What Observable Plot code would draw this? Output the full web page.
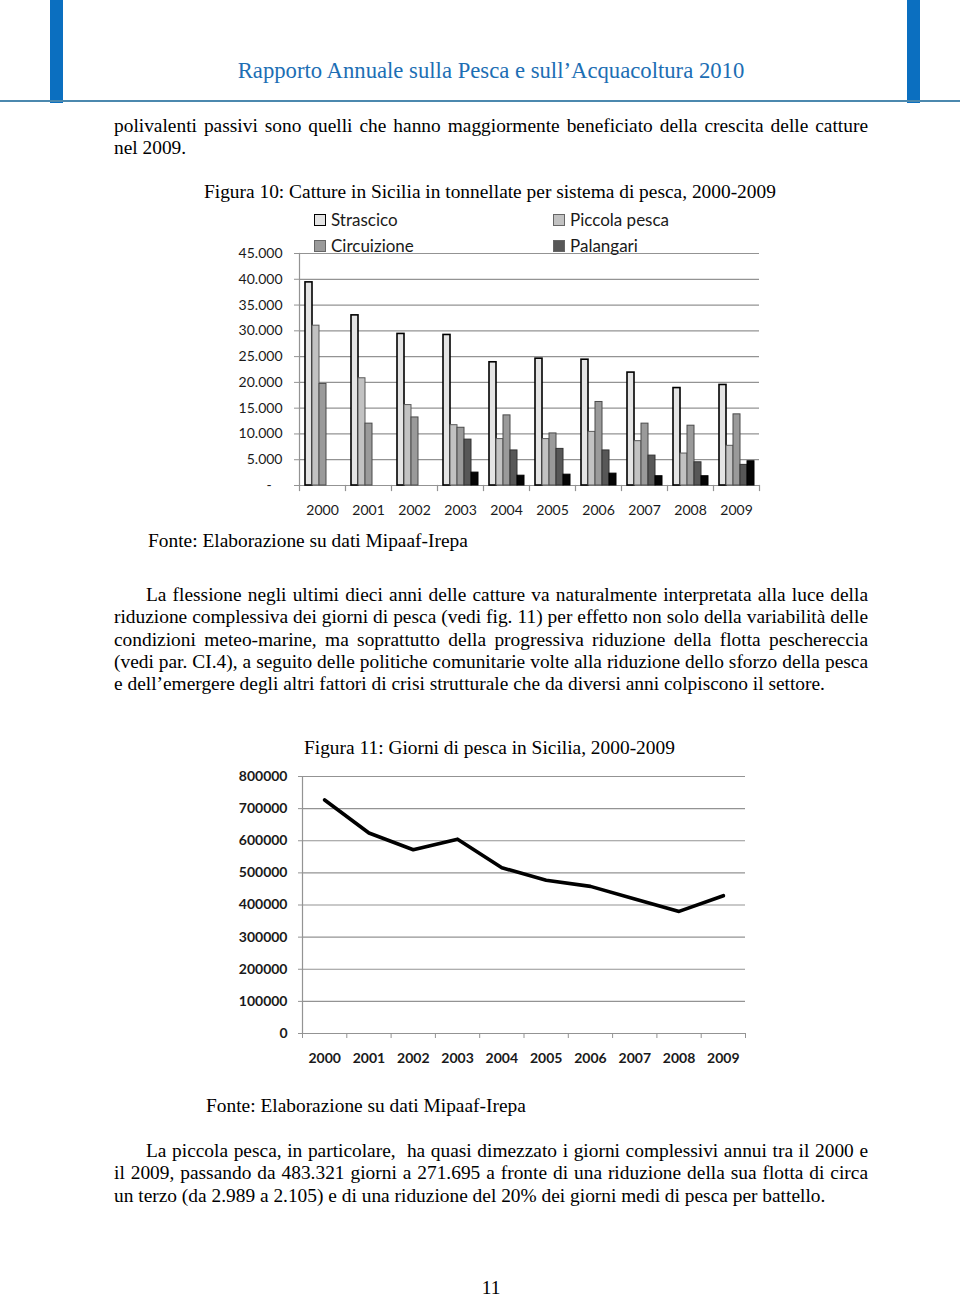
<!DOCTYPE html>
<html><head><meta charset="utf-8">
<script src="https://cdn.jsdelivr.net/npm/d3@7"></script>
<script src="https://cdn.jsdelivr.net/npm/@observablehq/plot@0.6"></script>
<style>
html,body{margin:0;padding:0;}
body{width:960px;height:1297px;position:relative;background:#fff;overflow:hidden;}
.abs{position:absolute;}
.serif{font-family:"Liberation Serif","Times New Roman",serif;color:#000;}
.txt{font-size:19.4px;line-height:22.3px;}
.line{display:block;width:754px;text-align:justify;text-align-last:justify;white-space:normal;}
.last{text-align:left;text-align-last:left;}
.cap{font-size:19.4px;white-space:nowrap;line-height:22px;}
.cal{font-family:Lato,"Open Sans",sans-serif;color:#1a1a1a;}
.leg{font-size:17px;line-height:20px;display:flex;align-items:center;}
.sw{width:10px;height:10px;margin-right:5px;border:1px solid #555;}
</style>
</head><body>

<!-- header -->
<div class="abs" style="left:50px;top:0;width:13px;height:103px;background:#0b6fc0"></div>
<div class="abs" style="left:907px;top:0;width:13px;height:103px;background:#0b6fc0"></div>
<div class="abs" style="left:0;top:100px;width:960px;height:2px;background:#4b88ae"></div>
<div class="abs serif" id="hdr" style="left:0;width:982px;top:58px;text-align:center;font-size:22.7px;color:#1c6eb4;white-space:nowrap">Rapporto Annuale sulla Pesca e sull’Acquacoltura 2010</div>

<div class="abs serif txt" style="left:114px;top:115px">
  <div class="line">polivalenti passivi sono quelli che hanno maggiormente beneficiato della crescita delle catture</div>
  <div class="line last">nel 2009.</div>
</div>

<div class="abs serif cap" style="left:204px;top:181px">Figura 10: Catture in Sicilia in tonnellate per sistema di pesca, 2000-2009</div>

<div id="chart1" class="abs" style="left:140px;top:230px"></div>
<div id="legend1"></div>

<div class="abs serif cap" style="left:148px;top:530px">Fonte: Elaborazione su dati Mipaaf-Irepa</div>

<div class="abs serif txt" style="left:114px;top:584px">
  <div class="line" style="text-indent:32px">La flessione negli ultimi dieci anni delle catture va naturalmente interpretata alla luce della</div>
  <div class="line">riduzione complessiva dei giorni di pesca (vedi fig. 11) per effetto non solo della variabilità delle</div>
  <div class="line">condizioni meteo-marine, ma soprattutto della progressiva riduzione della flotta peschereccia</div>
  <div class="line">(vedi par. CI.4), a seguito delle politiche comunitarie volte alla riduzione dello sforzo della pesca</div>
  <div class="line last">e dell’emergere degli altri fattori di crisi strutturale che da diversi anni colpiscono il settore.</div>
</div>

<div class="abs serif cap" style="left:304px;top:737px">Figura 11: Giorni di pesca in Sicilia, 2000-2009</div>

<div id="chart2" class="abs" style="left:200px;top:760px"></div>

<div class="abs serif cap" style="left:206px;top:1095px">Fonte: Elaborazione su dati Mipaaf-Irepa</div>

<div class="abs serif txt" style="left:114px;top:1140px">
  <div class="line" style="text-indent:32px">La piccola pesca, in particolare,&nbsp; ha quasi dimezzato i giorni complessivi annui tra il 2000 e</div>
  <div class="line">il 2009, passando da 483.321 giorni a 271.695 a fronte di una riduzione della sua flotta di circa</div>
  <div class="line last">un terzo (da 2.989 a 2.105) e di una riduzione del 20% dei giorni medi di pesca per battello.</div>
</div>

<div class="abs serif cap" style="left:0;width:982px;top:1277px;text-align:center">11</div>

<script>
// ---------- Figura 10 data (tonnellate) ----------
const years = ["2000","2001","2002","2003","2004","2005","2006","2007","2008","2009"];
const series = ["Strascico","Piccola pesca","Circuizione","Palangari","Polivalenti passivi"];
const strascico   = [39400, 33000, 29400, 29200, 23900, 24600, 24400, 21900, 18900, 19500];
const piccolaPesca= [31000, 20800, 15600, 11700,  9000,  9000, 10400,  8600,  6200,  7700];
const circuizione = [19700, 12000, 13200, 11200, 13600, 10100, 16200, 12000, 11600, 13800];
const palangari   = [null,  null,  null,   8900,  6800,  7100,  6800,  5800,  4500,  4000];
const polivalenti = [null,  null,  null,   2500,  1900,  2100,  2300,  1800,  1800,  4700];
const barTicks = [0,5000,10000,15000,20000,25000,30000,35000,40000,45000];
const barFills = ["#e4e4e4","#c2c2c2","#9a9a9a","#575757","#050505"];
const barStrokes = ["#000000","#5a5a5a","#4a4a4a","#333333","#000000"];
const legendItems = ["Strascico","Piccola pesca","Circuizione","Palangari"];

// ---------- Figura 11 data (giorni) ----------
const giorni = [727000, 624000, 572000, 605000, 516000, 477000, 458000, 419000, 380000, 429000];
const lineTicks = [0,100000,200000,300000,400000,500000,600000,700000,800000];

const seriesValues = [strascico, piccolaPesca, circuizione, palangari, polivalenti];
const rows = [];
years.forEach((y, i) => series.forEach((s, j) => {
  const v = seriesValues[j][i];
  if (v != null) rows.push({year: y, series: s, value: v});
}));

const fmtIt = d => d === 0 ? "-\u00a0\u00a0\u00a0" : d3.format(",")(d).replace(/,/g, ".");
const grid = "#939393";

const chart1 = Plot.plot({
  width: 640, height: 295,
  marginLeft: 156, marginRight: 18, marginTop: 23, marginBottom: 40,
  style: {fontFamily: "Lato, 'Open Sans', sans-serif", fontSize: "14px", color: "#1a1a1a", background: "transparent", overflow: "visible"},
  fx: {domain: years, padding: 0, label: null},
  x: {domain: series, paddingInner: 0, paddingOuter: 0.68, axis: null},
  y: {domain: [0, 45000], label: null},
  color: {domain: series, range: barFills},
  marks: [
    Plot.ruleY(barTicks, {stroke: grid, strokeWidth: 1.2}),
    Plot.barY(rows, {fx: "year", x: "series", y: "value", fill: "series",
      stroke: d => barStrokes[series.indexOf(d.series)],
      strokeWidth: d => d.series === "Strascico" ? 1.6 : 1}),
    Plot.axisY({ticks: barTicks, tickSize: 5, tickPadding: 12, tickFormat: fmtIt, stroke: grid, label: null}),
    Plot.axisFx({anchor: "bottom", tickSize: 0, tickPadding: 20, label: null}),
    Plot.frame({anchor: "left", stroke: grid, strokeWidth: 1.2, facetAnchor: "left"}),
    Plot.frame({anchor: "left", stroke: grid, strokeWidth: 1.2, insetTop: 232, insetBottom: -5}),
    Plot.frame({anchor: "right", stroke: grid, strokeWidth: 1.2, insetTop: 232, insetBottom: -5, facetAnchor: "right"})
  ]
});
document.getElementById("chart1").appendChild(chart1);

// legend (HTML, over the chart top)
const legPos = [[314,210],[553,210],[314,236],[553,236]];
const legDiv = document.getElementById("legend1");
legendItems.forEach((name, k) => {
  const j = series.indexOf(name);
  const el = document.createElement("div");
  el.className = "abs cal leg";
  el.style.left = legPos[k][0] + "px";
  el.style.top = legPos[k][1] + "px";
  el.innerHTML = `<span class="sw" style="background:${barFills[j]};border-color:${j===0?"#000":"#666"}"></span>${name}`;
  legDiv.appendChild(el);
});

// ---------- Figura 11 ----------
const lineData = years.map((y, i) => ({year: y, days: giorni[i]}));
const chart2 = Plot.plot({
  width: 560, height: 313,
  marginLeft: 102, marginRight: 15, marginTop: 16, marginBottom: 40,
  style: {fontFamily: "Lato, 'Open Sans', sans-serif", fontSize: "14px", color: "#1a1a1a", background: "transparent", overflow: "visible"},
  x: {domain: [0, years.length], label: null},
  y: {domain: [0, 800000], label: null},
  marks: [
    Plot.ruleY(lineTicks, {stroke: grid, strokeWidth: 1.2}),
    Plot.ruleX([0], {stroke: grid, strokeWidth: 1.2}),
    Plot.axisY({ticks: lineTicks, tickSize: 4, tickPadding: 11, tickFormat: d => String(d), fontWeight: "bold", stroke: grid, label: null}),
    Plot.axisX({ticks: d3.range(0, years.length + 1), tickSize: 5, tickFormat: () => "", stroke: grid, label: null}),
    Plot.axisX({ticks: years.map((y, i) => i + 0.5), tickSize: 0, tickPadding: 20, tickFormat: v => years[Math.floor(v)], fontWeight: "bold", label: null}),
    Plot.lineY(lineData, {x: d => years.indexOf(d.year) + 0.5, y: "days", stroke: "#000", strokeWidth: 3.6, strokeLinejoin: "round"})
  ]
});
document.getElementById("chart2").appendChild(chart2);
</script>
</body></html>
